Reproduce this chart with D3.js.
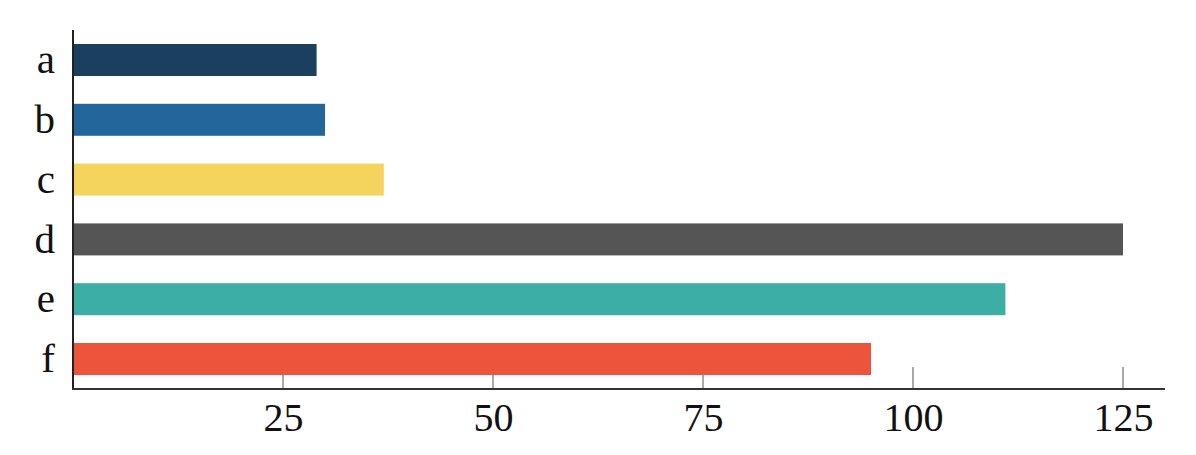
<!DOCTYPE html>
<html>
<head>
<meta charset="utf-8">
<script src="https://cdn.jsdelivr.net/npm/d3@7"></script>
<style>
  body { margin: 0; background: #fff; }
  .tick text { font-family: "Liberation Serif", serif; }
</style>
</head>
<body>
<div id="chart"></div>
<script>
const categories = ['a', 'b', 'c', 'd', 'e', 'f'];
const values = [29, 30, 37, 125, 111, 95];
const colors = ['#1b3f5f', '#22669b', '#f5d45e', '#555555', '#3daea3', '#ec553b'];
const xTicks = [25, 50, 75, 100, 125];

const width = 1196, height = 455;
const margin = { top: 30, right: 31, bottom: 66, left: 73 };
const plotW = width - margin.left - margin.right;
const plotH = height - margin.top - margin.bottom;

const svg = d3.select('#chart')
    .append('svg')
    .attr('width', width)
    .attr('height', height)
    .append('g')
    .attr('transform', `translate(${margin.left}, ${margin.top})`);

const xScale = d3.scaleLinear().domain([0, 130]).range([0, plotW]);
const yScale = d3.scaleBand()
    .domain(categories)
    .range([0, plotH])
    .paddingInner(0.465)
    .paddingOuter(0.234);

// x ticks (drawn upward, behind the bars)
svg.append('g')
    .selectAll('line')
    .data(xTicks)
    .enter()
    .append('line')
    .attr('x1', d => xScale(d))
    .attr('x2', d => xScale(d))
    .attr('y1', plotH)
    .attr('y2', plotH - 22)
    .attr('stroke', '#555')
    .attr('stroke-width', 1);

// bars
svg.append('g')
    .selectAll('rect')
    .data(categories)
    .enter()
    .append('rect')
    .attr('x', xScale(0))
    .attr('y', d => yScale(d))
    .attr('width', (d, i) => xScale(values[i]) - xScale(0))
    .attr('height', yScale.bandwidth())
    .attr('fill', (d, i) => colors[i]);

// x axis labels
const xAxis = svg.append('g')
    .attr('transform', `translate(0, ${plotH})`)
    .call(d3.axisBottom(xScale).tickValues(xTicks).tickSize(0).tickPadding(14));
xAxis.select('.domain').remove();
xAxis.selectAll('text')
    .style('font-size', '40px')
    .attr('fill', '#111');

// y axis labels
const yAxis = svg.append('g')
    .call(d3.axisLeft(yScale).tickSize(0).tickPadding(18));
yAxis.select('.domain').remove();
yAxis.selectAll('text')
    .style('font-size', '41px')
    .attr('fill', '#111');

// axis lines
svg.append('line')
    .attr('x1', 0).attr('x2', 0)
    .attr('y1', 0).attr('y2', plotH + 1)
    .attr('stroke', '#222').attr('stroke-width', 2);
svg.append('line')
    .attr('x1', -1).attr('x2', plotW)
    .attr('y1', plotH).attr('y2', plotH)
    .attr('stroke', '#333').attr('stroke-width', 2);
</script>
</body>
</html>
